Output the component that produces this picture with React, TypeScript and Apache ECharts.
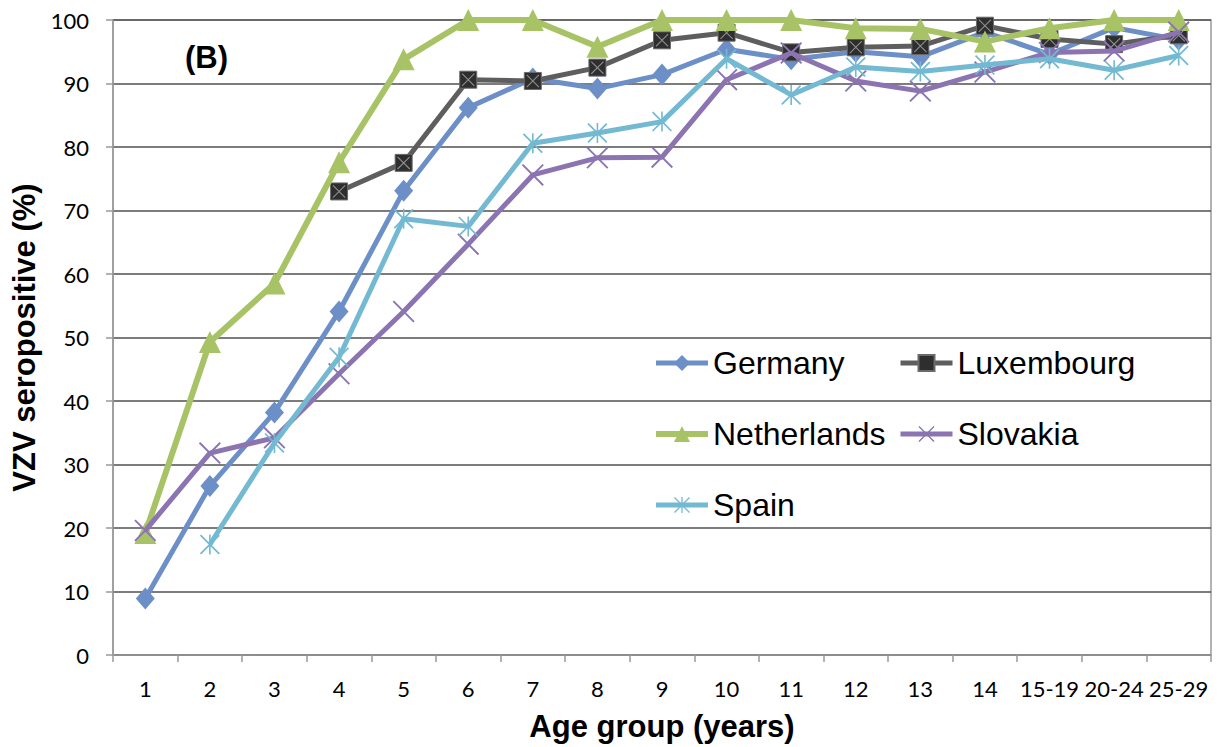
import React, { useEffect, useRef } from "react";
import * as echarts from "echarts";

const categories = ["1", "2", "3", "4", "5", "6", "7", "8", "9", "10", "11", "12", "13", "14", "15-19", "20-24", "25-29"];
const yTicks = { min: 0, max: 100, interval: 10 };

const germany = [8.9, 26.6, 38.2, 54.1, 73.1, 86.2, 90.8, 89.2, 91.4, 95.4, 93.8, 95.0, 94.2, 98.1, 94.6, 98.8, 96.9];
const luxembourg = [null, null, null, 73.0, 77.5, 90.6, 90.4, 92.5, 96.8, 98.0, 94.9, 95.7, 95.9, 99.1, 97.0, 96.2, 97.6];
const netherlands = [19.2, 49.3, 58.5, 77.6, 93.8, 100, 100, 95.8, 100, 100, 100, 98.7, 98.6, 96.6, 98.7, 100, 100];
const slovakia = [19.6, 31.8, 34.2, 44.3, 54.1, 64.7, 75.6, 78.3, 78.4, 90.6, 94.8, 90.4, 88.8, 91.8, 94.9, 95.1, 98.1];
const spain = [null, 17.4, 33.4, 46.9, 68.7, 67.5, 80.6, 82.2, 84.0, 93.9, 88.2, 92.6, 91.9, 92.9, 93.9, 92.1, 94.4];

const X_PATH = "path://M0,0.6L0.6,0L10,9.4L9.4,10Z M9.4,0L10,0.6L0.6,10L0,9.4Z";
const STAR_PATH = "path://M0,0.6L0.6,0L10,9.4L9.4,10Z M9.4,0L10,0.6L0.6,10L0,9.4Z M4.6,0H5.4V10H4.6Z";

export default function App() {
  const ref = useRef<HTMLDivElement>(null);
  useEffect(() => {
    document.body.style.margin = "0";
    const chart = echarts.init(ref.current!, null, { renderer: "svg" });
    const tickFont = { fontFamily: "Lato", fontSize: 22, color: "#000" };
    const legendText = { fontFamily: "Liberation Sans", fontSize: 32, color: "#000", lineHeight: 34 };
    const legendBase = {
      orient: "vertical",
      top: 346,
      padding: 0,
      itemWidth: 52,
      itemHeight: 20,
      itemGap: 37,
      textStyle: legendText,
      selectedMode: false,
      lineStyle: { width: "inherit" },
    };
    chart.setOption({
      animation: false,
      backgroundColor: "#fff",
      grid: { left: 113, right: 17, top: 20, bottom: 91, show: true, borderColor: "#9a9a9a", borderWidth: 1.5 },
      xAxis: {
        type: "category",
        data: categories,
        boundaryGap: true,
        axisLine: { lineStyle: { color: "#9a9a9a", width: 1.5 } },
        axisTick: { show: true, length: 7, lineStyle: { color: "#9a9a9a", width: 1.5 } },
        axisLabel: { ...tickFont, margin: 22, interval: 0 },
        name: "Age group (years)",
        nameLocation: "middle",
        nameGap: 56,
        nameTextStyle: { fontFamily: "Liberation Sans", fontWeight: "bold", fontSize: 31, color: "#000" },
      },
      yAxis: {
        type: "value",
        min: yTicks.min,
        max: yTicks.max,
        interval: yTicks.interval,
        axisLine: { show: true, lineStyle: { color: "#9a9a9a", width: 1.5 } },
        axisTick: { show: true, length: 7, lineStyle: { color: "#9a9a9a", width: 1.5 } },
        axisLabel: { ...tickFont, margin: 24 },
        splitLine: { lineStyle: { color: "#505050", width: 1.6 } },
        name: "VZV seropositive (%)",
        nameLocation: "middle",
        nameGap: 68,
        nameTextStyle: { fontFamily: "Liberation Sans", fontWeight: "bold", fontSize: 31, color: "#000" },
      },
      legend: [
        { ...legendBase, data: ["Germany", "Netherlands", "Spain"], left: 653 },
        { ...legendBase, data: ["Luxembourg", "Slovakia"], left: 898 },
      ],
      graphic: [
        {
          type: "text",
          left: 185,
          top: 42,
          style: { text: "(B)", fontFamily: "Liberation Sans", fontWeight: "bold", fontSize: 31, fill: "#000" },
        },
      ],
      series: [
        {
          name: "Germany",
          type: "line",
          data: germany,
          symbol: "diamond",
          symbolSize: [19, 22],
          lineStyle: { color: "#6c8fc8", width: 5 },
          itemStyle: { color: "#6c8fc8" },
          z: 2,
        },
        {
          name: "Luxembourg",
          type: "line",
          data: luxembourg,
          symbol: "rect",
          symbolSize: 17,
          lineStyle: { color: "#5e5e5e", width: 5 },
          itemStyle: { color: "#2e2e2e", borderColor: "#6a6a6a", borderWidth: 1 },
          z: 3,
        },
        {
          name: "LuxX",
          type: "line",
          data: luxembourg,
          symbol: X_PATH,
          symbolSize: 13,
          lineStyle: { width: 0, opacity: 0 },
          itemStyle: { color: "#8e8e8e" },
          silent: true,
          z: 3,
        },
        {
          name: "Netherlands",
          type: "line",
          data: netherlands,
          symbol: "triangle",
          symbolSize: 22,
          lineStyle: { color: "#a8c366", width: 6 },
          itemStyle: { color: "#a8c366" },
          z: 4,
        },
        {
          name: "Slovakia",
          type: "line",
          data: slovakia,
          symbol: X_PATH,
          symbolSize: 22,
          lineStyle: { color: "#8b74b1", width: 5 },
          itemStyle: { color: "#8b74b1" },
          z: 5,
        },
        {
          name: "Spain",
          type: "line",
          data: spain,
          symbol: STAR_PATH,
          symbolSize: 20,
          lineStyle: { color: "#72b9d1", width: 5 },
          itemStyle: { color: "#72b9d1" },
          z: 6,
        },
      ],
    });
    return () => chart.dispose();
  }, []);
  return <div ref={ref} style={{ width: 1228, height: 747 }} />;
}
